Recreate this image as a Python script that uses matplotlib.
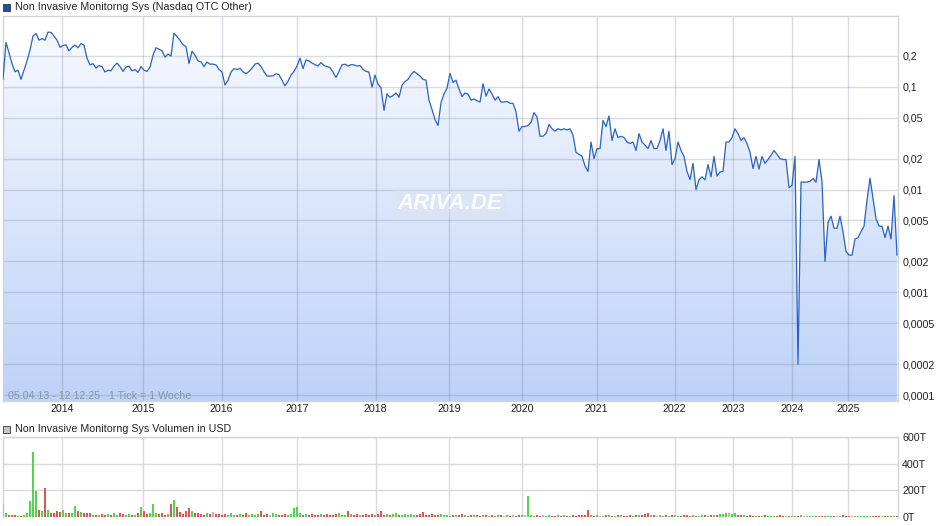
import numpy as np
import matplotlib
matplotlib.use('Agg')
import matplotlib.pyplot as plt
from matplotlib.patches import Rectangle
from matplotlib.ticker import NullLocator

plt.rcParams['font.family'] = ['Liberation Sans', 'DejaVu Sans']

# --------------------------------------------------------------------------
# Data (one value per tick step)
#
price = [
    0.118, 0.270, 0.214, 0.168, 0.140, 0.145, 0.118, 0.145, 0.178, 0.227,
    0.311, 0.330, 0.284, 0.294, 0.284, 0.340, 0.338, 0.311, 0.284, 0.242,
    0.252, 0.256, 0.223, 0.242, 0.254, 0.240, 0.263, 0.254, 0.190, 0.163,
    0.168, 0.152, 0.161, 0.157, 0.139, 0.145, 0.143, 0.159, 0.170, 0.157,
    0.141, 0.155, 0.159, 0.143, 0.147, 0.138, 0.157, 0.145, 0.141, 0.155,
    0.203, 0.240, 0.232, 0.224, 0.194, 0.208, 0.199, 0.333, 0.307, 0.284,
    0.256, 0.246, 0.168, 0.222, 0.203, 0.178, 0.175, 0.157, 0.174, 0.166,
    0.166, 0.163, 0.148, 0.139, 0.104, 0.116, 0.139, 0.150, 0.147, 0.151,
    0.140, 0.134, 0.141, 0.152, 0.166, 0.170, 0.157, 0.140, 0.127, 0.127,
    0.128, 0.134, 0.131, 0.116, 0.102, 0.113, 0.130, 0.141, 0.159, 0.190,
    0.150, 0.182, 0.178, 0.170, 0.164, 0.159, 0.172, 0.161, 0.157, 0.154,
    0.139, 0.123, 0.141, 0.163, 0.166, 0.159, 0.164, 0.163, 0.159, 0.161,
    0.148, 0.141, 0.139, 0.099, 0.130, 0.106, 0.098, 0.059, 0.085, 0.079,
    0.082, 0.087, 0.079, 0.104, 0.112, 0.118, 0.131, 0.141, 0.134, 0.127,
    0.118, 0.116, 0.074, 0.060, 0.048, 0.042, 0.070, 0.085, 0.097, 0.135,
    0.110, 0.116, 0.095, 0.080, 0.087, 0.085, 0.074, 0.076, 0.073, 0.071,
    0.107, 0.081, 0.095, 0.085, 0.074, 0.080, 0.071, 0.071, 0.072, 0.069,
    0.069, 0.057, 0.037, 0.041, 0.041, 0.042, 0.045, 0.056, 0.051, 0.033,
    0.033, 0.035, 0.043, 0.039, 0.037, 0.039, 0.038, 0.039, 0.038, 0.039,
    0.034, 0.023, 0.022, 0.021, 0.017, 0.015, 0.029, 0.020, 0.025, 0.025,
    0.047, 0.041, 0.052, 0.030, 0.039, 0.032, 0.033, 0.032, 0.029, 0.028,
    0.029, 0.024, 0.035, 0.029, 0.027, 0.025, 0.030, 0.025, 0.025, 0.030,
    0.039, 0.024, 0.037, 0.0175, 0.020, 0.029, 0.024, 0.021, 0.015, 0.0125,
    0.018, 0.010, 0.0124, 0.0133, 0.0124, 0.0175, 0.0133, 0.021, 0.0135, 0.0148,
    0.015, 0.029, 0.029, 0.032, 0.039, 0.035, 0.030, 0.032, 0.028, 0.023,
    0.016, 0.021, 0.0158, 0.021, 0.018, 0.0196, 0.0215, 0.024, 0.022, 0.020,
    0.0196, 0.0196, 0.0104, 0.011, 0.021, 0.0002, 0.0118, 0.0118, 0.0118, 0.012,
    0.0128, 0.0118, 0.0196, 0.012, 0.002, 0.0048, 0.0055, 0.0042, 0.0042, 0.0055,
    0.0039, 0.0025, 0.0023, 0.0023, 0.0033, 0.0034, 0.0039, 0.0044, 0.0079, 0.0129,
    0.0082, 0.0052, 0.0044, 0.0044, 0.0034, 0.0044, 0.0033, 0.0087, 0.0023,
]

# Volume in thousands of USD (T)
volume = [
    97, 25, 15, 12, 15, 8, 6, 10, 25, 120,
    490, 197, 50, 40, 217, 50, 30, 30, 45, 35,
    50, 30, 25, 30, 80, 40, 35, 25, 30, 30,
    12, 15, 10, 18, 12, 20, 15, 25, 12, 30,
    18, 10, 22, 15, 12, 30, 70, 45, 20, 25,
    97, 30, 18, 25, 12, 20, 97, 127, 70, 35,
    20, 45, 62, 45, 25, 30, 20, 15, 28, 20,
    35, 18, 22, 15, 20, 12, 25, 15, 10, 20,
    15, 30, 12, 18, 10, 22, 45, 15, 20, 12,
    25, 18, 10, 15, 20, 12, 18, 67, 75, 25,
    15, 20, 12, 18, 10, 15, 22, 12, 20, 15,
    10, 18, 25, 12, 15, 42, 20, 12, 18, 10,
    15, 22, 12, 18, 15, 20, 45, 15, 22, 12,
    18, 25, 10, 15, 20, 12, 18, 15, 10, 22,
    37, 15, 12, 18, 10, 15, 20, 12, 10, 8,
    12, 15, 10, 18, 12, 8, 15, 10, 12, 8,
    15, 10, 6, 12, 8, 10, 15, 8, 12, 6,
    10, 8, 12, 10, 15, 157, 15, 8, 10, 6,
    12, 8, 10, 6, 8, 12, 6, 10, 8, 6,
    12, 8, 10, 15, 10, 52, 12, 8, 10, 6,
    8, 12, 10, 6, 8, 10, 12, 8, 6, 10,
    8, 12, 15, 10, 20, 25, 15, 12, 8, 10,
    6, 12, 8, 10, 15, 8, 6, 10, 12, 8,
    10, 8, 6, 10, 12, 8, 10, 15, 12, 20,
    18, 25, 30, 22, 25, 15, 12, 10, 8, 12,
    6, 6, 8, 4, 10, 6, 8, 4, 6, 10,
    4, 8, 6, 4, 8, 6, 10, 4, 6, 8,
    4, 6, 4, 8, 6, 4, 6, 8, 4, 6,
    10, 4, 6, 4, 8, 6, 4, 6, 4, 8,
    6, 4, 6, 4, 6, 8, 4, 6, 4,
]

years = ['2014', '2015', '2016', '2017', '2018', '2019', '2020', '2021',
         '2022', '2023', '2024', '2025']
# position of the year boundary on the tick axis
year_pos = [19.8, 46.6, 72.9, 98.1, 124.2, 148.8, 173.1, 197.9, 223.9,
            243.4, 263.1, 281.8]

price_ticks = [0.2, 0.1, 0.05, 0.02, 0.01, 0.005, 0.002, 0.001, 0.0005,
               0.0002, 0.0001]
price_labels = ['0,2', '0,1', '0,05', '0,02', '0,01', '0,005', '0,002',
                '0,001', '0,0005', '0,0002', '0,0001']
vol_ticks = [0, 200, 400, 600]
vol_labels = ['0T', '200T', '400T', '600T']

assert len(price) == len(volume)

# --------------------------------------------------------------------------
# Figure settings
#
W, H = 940, 526
fig = plt.figure(figsize=(W / 100, H / 100), dpi=100)
fig.patch.set_facecolor('white')
spine_color = '#d4d4d4'
text_color = '#222222'
fs = 7.7

x = np.arange(len(price))
xmax = 298.33
ylo, yhi = 0.0000875, 0.488

# --------------------------------------------------------------------------
# Price panel
#
ax = fig.add_axes([3 / W, 1 - 401 / H, 895 / W, 385 / H])
ax.set_yscale('log')
ax.set_xlim(0, xmax)
ax.set_ylim(ylo, yhi)

# gradient fill under the line
grad = np.linspace(0, 1, 256)[:, None]
top = np.array([0.975, 0.983, 1.0])
bot = np.array([0.737, 0.824, 0.969])
img = top[None, None, :] * (1 - grad[:, :, None]) + bot[None, None, :] * grad[:, :, None]
im = ax.imshow(img, extent=[0, 1, 0, 1], transform=ax.transAxes,
               aspect='auto', origin='upper', zorder=1, interpolation='bilinear')
coll = ax.fill_between(x, price, ylo / 10, facecolor='none', edgecolor='none')
im.set_clip_path(coll.get_paths()[0], ax.transData)
ax.set_xlim(0, xmax)
ax.set_ylim(ylo, yhi)

ax.plot(x, price, color='#2b61c3', linewidth=0.9, zorder=3)

ax.set_yticks(price_ticks)
ax.set_yticklabels(price_labels)
ax.yaxis.set_minor_locator(NullLocator())
ax.yaxis.tick_right()
ax.set_xticks(year_pos)
ax.set_xticklabels(years)
ax.tick_params(axis='y', length=0, pad=3, labelsize=fs, labelcolor=text_color)
ax.tick_params(axis='x', length=0, pad=2.5, labelsize=fs, labelcolor=text_color)
ax.set_axisbelow('line')
ax.grid(True, color=(0.42, 0.47, 0.56), alpha=0.25, linewidth=1)
for s in ax.spines.values():
    s.set_color(spine_color)
    s.set_linewidth(1)

ax.text(5 / 895, (401 - 395.7) / 385, '05.04.13 - 12.12.25   1 Tick = 1 Woche',
        transform=ax.transAxes, ha='left', va='center', fontsize=fs,
        color='#8a95a8', zorder=4)
ax.text(0.4994, 0.514, 'ARIVA.DE', transform=ax.transAxes, ha='center',
        va='center', fontsize=16, fontweight='bold', fontstyle='italic',
        color='white', alpha=0.85, zorder=2,
        bbox=dict(boxstyle='round,pad=0.2', fc='#dfe4ec', ec='none', alpha=0.35))

# --------------------------------------------------------------------------
# Volume panel
#
ax2 = fig.add_axes([3 / W, 1 - 516.7 / H, 895 / W, 79.4 / H])
ax2.set_xlim(0, xmax)
ax2.set_ylim(0, 600)
change = np.sign(np.diff(price, prepend=price[0]))
bar_colors = np.where(change > 0, '#55d44b', np.where(change < 0, '#e25555', '#b8b8b8'))
ax2.bar(x, volume, width=0.62, color=bar_colors, linewidth=0, zorder=3)
ax2.set_yticks(vol_ticks)
ax2.set_yticklabels(vol_labels)
ax2.yaxis.tick_right()
ax2.set_xticks(year_pos)
ax2.set_xticklabels([])
ax2.tick_params(axis='y', length=0, pad=3, labelsize=fs, labelcolor=text_color)
ax2.tick_params(axis='x', length=0)
ax2.set_axisbelow(True)
ax2.grid(True, color='#dadada', linewidth=1)
for s in ax2.spines.values():
    s.set_color(spine_color)
    s.set_linewidth(1)
ax2.spines['bottom'].set_visible(False)

# --------------------------------------------------------------------------
# Titles with legend squares
#
fig.add_artist(Rectangle((3 / W, 1 - 11 / H), 7 / W, 7 / H, transform=fig.transFigure,
                         facecolor='#1d4fa6', edgecolor='#333333', linewidth=0.6))
fig.text(15 / W, 1 - 7 / H, 'Non Invasive Monitorng Sys (Nasdaq OTC Other)',
         ha='left', va='center', fontsize=fs, color=text_color)
fig.add_artist(Rectangle((3 / W, 1 - 433 / H), 7 / W, 7 / H, transform=fig.transFigure,
                         facecolor='#c4c4c4', edgecolor='#333333', linewidth=0.6))
fig.text(15 / W, 1 - 429 / H, 'Non Invasive Monitorng Sys Volumen in USD',
         ha='left', va='center', fontsize=fs, color=text_color)

fig.savefig('out.png', dpi=100)
